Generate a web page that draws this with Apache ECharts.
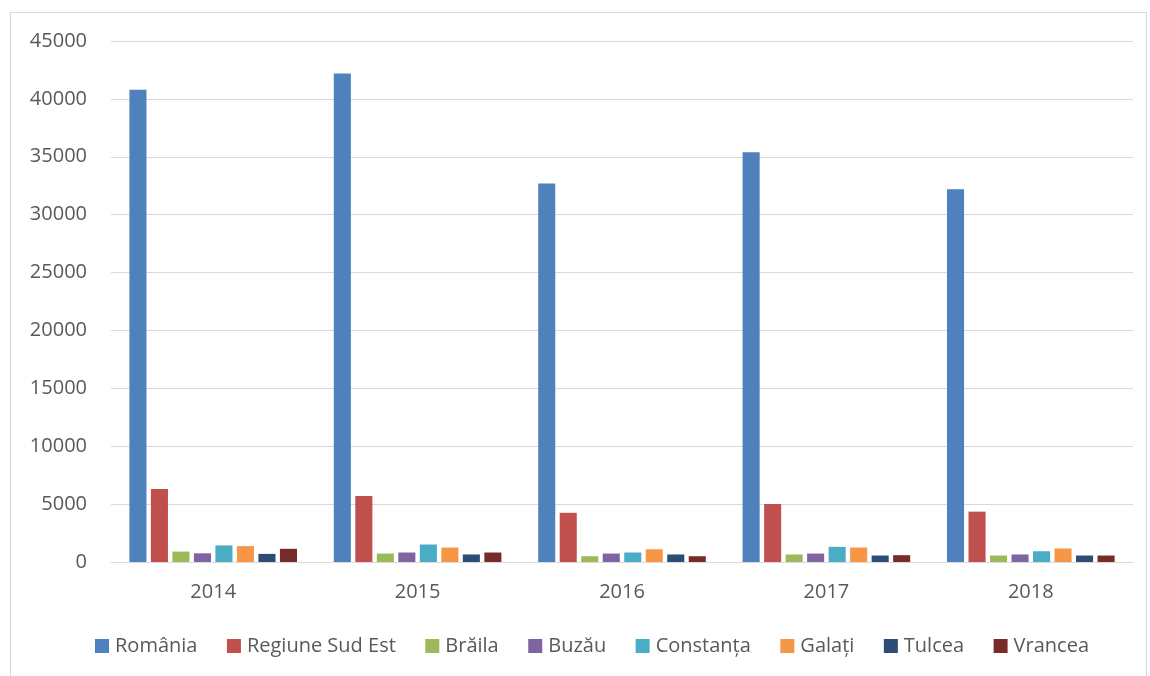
<!DOCTYPE html>
<html>
<head>
<meta charset="utf-8">
<script src="https://cdn.jsdelivr.net/npm/echarts@6/dist/echarts.min.js"></script>
<style>
  html, body { margin: 0; padding: 0; background: #fff; }
  #frame {
    position: absolute; left: 10px; top: 12px; width: 1137px; height: 700px;
    border: 1px solid #d9d9d9; box-sizing: border-box;
  }
  #chart { position: absolute; left: 0; top: 0; width: 1150px; height: 676px; }
</style>
</head>
<body>
<div id="frame"></div>
<div id="chart"></div>
<script>
// years on the x axis
const years = ['2014', '2015', '2016', '2017', '2018']

// one array per region
const romania    = [40800, 42200, 32700, 35400, 32200]
const sudEst     = [6300, 5700, 4250, 5000, 4350]
const braila     = [900, 730, 500, 650, 560]
const buzau      = [750, 820, 730, 730, 650]
const constanta  = [1430, 1510, 820, 1310, 930]
const galati     = [1370, 1250, 1100, 1250, 1170]
const tulcea     = [700, 650, 650, 560, 560]
const vrancea    = [1140, 820, 500, 590, 560]

const seriesNames = ['România', 'Regiune Sud Est', 'Brăila', 'Buzău', 'Constanța', 'Galați', 'Tulcea', 'Vrancea']
const seriesValues = [romania, sudEst, braila, buzau, constanta, galati, tulcea, vrancea]
const colors = ['#4f81bd', '#c0504d', '#9bbb59', '#8064a2', '#4bacc6', '#f79646', '#2c4d75', '#772c2a']

const chart = echarts.init(document.getElementById('chart'))

const textFont = '"Open Sans", "Liberation Sans", Arial, sans-serif'

chart.setOption({
  animation: false,
  color: colors,
  textStyle: { fontFamily: textFont },
  grid: { left: 111, right: 17, top: 41, bottom: 114, containLabel: false },
  legend: {
    top: 631,
    left: 90,
    itemWidth: 14,
    itemHeight: 14,
    itemGap: 29.5,
    icon: 'rect',
    textStyle: { color: '#595959', fontSize: 20, fontFamily: textFont, padding: [0, 0, 0, 1] },
    data: seriesNames
  },
  xAxis: {
    type: 'category',
    data: years,
    axisLine: { lineStyle: { color: '#d9d9d9', width: 1 } },
    axisTick: { show: false },
    axisLabel: { color: '#595959', fontSize: 20, margin: 20 }
  },
  yAxis: {
    type: 'value',
    min: 0,
    max: 45000,
    interval: 5000,
    axisLine: { show: false },
    axisTick: { show: false },
    axisLabel: { color: '#595959', fontSize: 20, margin: 24, formatter: v => String(v) },
    splitLine: { lineStyle: { color: '#d9d9d9', width: 1 } }
  },
  series: seriesNames.map((name, i) => ({
    name: name,
    type: 'bar',
    data: seriesValues[i],
    barGap: '26%',
    barCategoryGap: '18%'
  }))
})
</script>
</body>
</html>
